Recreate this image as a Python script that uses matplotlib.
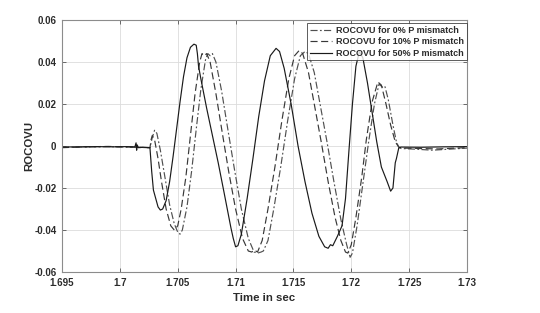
import matplotlib
matplotlib.use("Agg")
import matplotlib.pyplot as plt

# time (s) and ROCOVU readings, 0% P mismatch (dash-dot)
t_0 = [1.6950, 1.6970, 1.6990, 1.7010, 1.7026, 1.7028, 1.7030, 1.7032, 1.7035,
       1.7039, 1.7043, 1.7047, 1.7050, 1.7052, 1.7054, 1.7058, 1.7062, 1.7066,
       1.7070, 1.7074, 1.7076, 1.7078, 1.7080, 1.7083, 1.7088, 1.7093, 1.7099,
       1.7105, 1.7111, 1.7116, 1.7119, 1.7122, 1.7124, 1.7128, 1.7133, 1.7139,
       1.7145, 1.7151, 1.7156, 1.7160, 1.7163, 1.7168, 1.7173, 1.7179, 1.7185,
       1.7191, 1.7196, 1.7199, 1.7201, 1.7205, 1.7210, 1.7215, 1.7220, 1.7224,
       1.7227, 1.7229, 1.7232, 1.7236, 1.7239, 1.7241, 1.7243, 1.7255, 1.7270,
       1.7285, 1.7300]
y_0 = [-0.0006, -0.0005, -0.0003, -0.0006, -0.0008, 0.0040, 0.0075, 0.0060, -0.0020,
       -0.0150, -0.0280, -0.0370, -0.0410, -0.0420, -0.0400, -0.0290, -0.0120, 0.0080,
       0.0270, 0.0410, 0.0440, 0.0430, 0.0440, 0.0400, 0.0260, 0.0090, -0.0110,
       -0.0300, -0.0440, -0.0505, -0.0510, -0.0505, -0.0500, -0.0450, -0.0300, -0.0100,
       0.0120, 0.0320, 0.0430, 0.0450, 0.0440, 0.0350, 0.0200, 0.0020, -0.0170,
       -0.0350, -0.0470, -0.0530, -0.0510, -0.0380, -0.0180, 0.0020, 0.0200, 0.0295,
       0.0280, 0.0285, 0.0220, 0.0100, 0.0020, -0.0005, -0.0012, -0.0015, -0.0020,
       -0.0015, -0.0010]

# 10% P mismatch (dashed)
t_10 = [1.6950, 1.6970, 1.6990, 1.7010, 1.7026, 1.7027, 1.7028, 1.7030, 1.7033,
        1.7036, 1.7040, 1.7044, 1.7047, 1.7048, 1.7050, 1.7053, 1.7057, 1.7061,
        1.7065, 1.7069, 1.7071, 1.7073, 1.7075, 1.7078, 1.7083, 1.7088, 1.7094,
        1.7100, 1.7106, 1.7111, 1.7114, 1.7116, 1.7119, 1.7123, 1.7128, 1.7134,
        1.7140, 1.7146, 1.7151, 1.7155, 1.7158, 1.7163, 1.7168, 1.7174, 1.7180,
        1.7186, 1.7191, 1.7195, 1.7197, 1.7200, 1.7204, 1.7209, 1.7213, 1.7218,
        1.7223, 1.7226, 1.7230, 1.7234, 1.7238, 1.7241, 1.7245, 1.7260, 1.7275,
        1.7290, 1.7300]
y_10 = [-0.0008, -0.0004, -0.0002, -0.0005, -0.0008, 0.0030, 0.0050, 0.0030, -0.0060,
        -0.0170, -0.0300, -0.0380, -0.0400, -0.0395, -0.0380, -0.0300, -0.0150, 0.0050,
        0.0250, 0.0400, 0.0440, 0.0430, 0.0440, 0.0400, 0.0250, 0.0080, -0.0120,
        -0.0300, -0.0440, -0.0500, -0.0505, -0.0495, -0.0505, -0.0450, -0.0300, -0.0100,
        0.0120, 0.0320, 0.0430, 0.0455, 0.0440, 0.0350, 0.0200, 0.0020, -0.0170,
        -0.0340, -0.0450, -0.0505, -0.0510, -0.0470, -0.0340, -0.0150, 0.0030, 0.0210,
        0.0305, 0.0290, 0.0200, 0.0100, 0.0020, -0.0005, -0.0010, -0.0012, -0.0014,
        -0.0010, -0.0008]

# 50% P mismatch (solid)
t_50 = [1.6950, 1.6965, 1.6980, 1.6995, 1.7005, 1.7013, 1.7014, 1.70145, 1.7015,
        1.7016, 1.7020, 1.7026, 1.70275, 1.7029, 1.7031, 1.7033, 1.7035, 1.7037,
        1.7040, 1.7043, 1.7046, 1.7049, 1.7052, 1.7055, 1.7058, 1.7061, 1.7064,
        1.7066, 1.7067, 1.7068, 1.7070, 1.7075, 1.7080, 1.7085, 1.7090, 1.7096,
        1.7098, 1.7100, 1.7102, 1.7105, 1.7110, 1.7115, 1.7120, 1.7125, 1.7130,
        1.7135, 1.7138, 1.7142, 1.7148, 1.7154, 1.7160, 1.7166, 1.7172, 1.7177,
        1.7180, 1.7182, 1.7184, 1.7188, 1.7192, 1.7195, 1.7198, 1.7201, 1.7204,
        1.7207, 1.7210, 1.7214, 1.7218, 1.7222, 1.7226, 1.7231, 1.7234, 1.7236,
        1.7238, 1.7239, 1.7241, 1.7243, 1.7260, 1.7280, 1.7300]
y_50 = [-0.0005, -0.0004, -0.0003, -0.0004, -0.0003, -0.0004, 0.0015, -0.0020, 0.0005,
        -0.0008, -0.0006, -0.0008, -0.0120, -0.0210, -0.0250, -0.0290, -0.0305, -0.0300,
        -0.0260, -0.0170, -0.0050, 0.0080, 0.0210, 0.0330, 0.0420, 0.0470, 0.0485,
        0.0480, 0.0440, 0.0380, 0.0320, 0.0180, 0.0050, -0.0080, -0.0220, -0.0390,
        -0.0440, -0.0480, -0.0475, -0.0420, -0.0250, -0.0060, 0.0140, 0.0310, 0.0430,
        0.0465, 0.0450, 0.0370, 0.0200, 0.0000, -0.0170, -0.0320, -0.0430, -0.0480,
        -0.0487, -0.0470, -0.0475, -0.0430, -0.0380, -0.0250, -0.0020, 0.0200, 0.0380,
        0.0450, 0.0420, 0.0300, 0.0160, 0.0020, -0.0100, -0.0170, -0.0215, -0.0200,
        -0.0080, -0.0060, -0.0010, -0.0005, -0.0006, -0.0004, -0.0003]

labels = ["ROCOVU for 0% P mismatch", "ROCOVU for 10% P mismatch",
          "ROCOVU for 50% P mismatch"]
x_ticks = [1.695, 1.7, 1.705, 1.71, 1.715, 1.72, 1.725, 1.73]
x_tick_labels = ["1.695", "1.7", "1.705", "1.71", "1.715", "1.72", "1.725", "1.73"]
y_ticks = [-0.06, -0.04, -0.02, 0, 0.02, 0.04, 0.06]
y_tick_labels = ["-0.06", "-0.04", "-0.02", "0", "0.02", "0.04", "0.06"]

plt.rcParams['font.family'] = ['Liberation Sans', 'DejaVu Sans']

fig = plt.figure(figsize=(5.4, 3.13), dpi=100)
ax = fig.add_axes([62 / 540, 1 - 272 / 313, 405 / 540, 252 / 313])

ax.plot(t_0, y_0, color='#505050', lw=0.85, linestyle=(0, (6, 2, 1.5, 2)), label=labels[0])
ax.plot(t_10, y_10, color='#383838', lw=0.85, linestyle=(0, (6, 3)), label=labels[1])
ax.plot(t_50, y_50, color='#1a1a1a', lw=0.85, linestyle='-', label=labels[2])

ax.set_xlim(1.695, 1.73)
ax.set_ylim(-0.06, 0.06)
ax.set_xticks(x_ticks)
ax.set_xticklabels(x_tick_labels)
ax.set_yticks(y_ticks)
ax.set_yticklabels(y_tick_labels)
ax.tick_params(direction='in', length=3, width=0.6, color='#555555',
               labelsize=7, pad=4, top=True, right=True)
for lab in ax.get_xticklabels() + ax.get_yticklabels():
    lab.set_fontweight('bold')
    lab.set_color('#2b2b2b')
for s in ax.spines.values():
    s.set_color('#8c8c8c')
    s.set_linewidth(0.8)
ax.grid(True, color='#dcdcdc', lw=0.6)
ax.set_axisbelow(True)

ax.set_xlabel("Time in sec", fontsize=8.2, fontweight='bold', color='#2b2b2b', labelpad=4)
ax.set_ylabel("ROCOVU", fontsize=8.2, fontweight='bold', color='#2b2b2b', labelpad=0)

leg = ax.legend(loc='upper right', bbox_to_anchor=(1.0, 0.988),
                prop={'weight': 'bold', 'size': 6.5}, frameon=True, fancybox=False,
                handlelength=2.5, handletextpad=0.45, borderpad=0.3,
                labelspacing=0.28, borderaxespad=0)
leg.get_frame().set_edgecolor('#333333')
leg.get_frame().set_linewidth(0.7)
for txt in leg.get_texts():
    txt.set_color('#2b2b2b')

fig.savefig("out.png", dpi=100)
